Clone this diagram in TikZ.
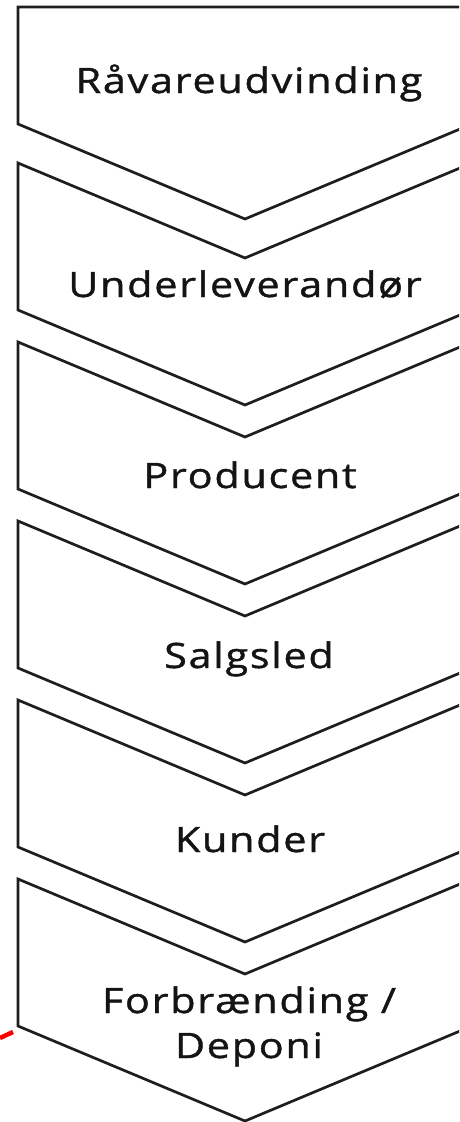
\documentclass[tikz,border=0pt]{standalone}
\usepackage{fontspec}
\setmainfont{Open Sans}[LetterSpace=5, FakeStretch=1.18, FakeBold=1.2]
\usepackage{tikz}

\begin{document}
\begin{tikzpicture}[x=1pt, y=-1pt,
    chevron/.style={draw=linecolor, line width=2.7pt, line join=miter},
    steplabel/.style={font=\fontsize{35}{45}\selectfont, text=textcolor, align=center, anchor=base},
    marker/.style={draw=red, line width=4.5pt}]

    % Define colors
    \definecolor{linecolor}{RGB}{30,30,30}
    \definecolor{textcolor}{RGB}{20,20,20}

    \useasboundingbox (0,0) rectangle (459,1122);
    \clip (0,0) rectangle (459,1122);

    % First stage, flat top
    \draw[chevron] (18,7) -- (472,7) -- (472,124) -- (245,219) -- (18,124) -- cycle;
    % Remaining stages, notched top
    \foreach \k in {0,...,4} {
        \pgfmathsetmacro{\yt}{163+179*\k}
        \draw[chevron] (18,\yt) -- (245,\yt+95) -- (472,\yt) -- (472,\yt+147)
            -- (245,\yt+242) -- (18,\yt+147) -- cycle;
    }

    % Nodes
    \node[steplabel] (extraction) at (249,93) {Råvareudvinding};
    \node[steplabel] (supplier) at (245,297) {Underleverandør};
    \node[steplabel] (producer) at (250,488) {Producent};
    \node[steplabel] (sales) at (249,668) {Salgsled};
    \node[steplabel] (customers) at (250,852) {Kunder};
    \node[steplabel] (disposal) at (249,1058) {Forbrænding /\\Deponi};

    % stray red stroke at the left edge
    \draw[marker] (0,1038) -- (13,1032);
\end{tikzpicture}
\end{document}
